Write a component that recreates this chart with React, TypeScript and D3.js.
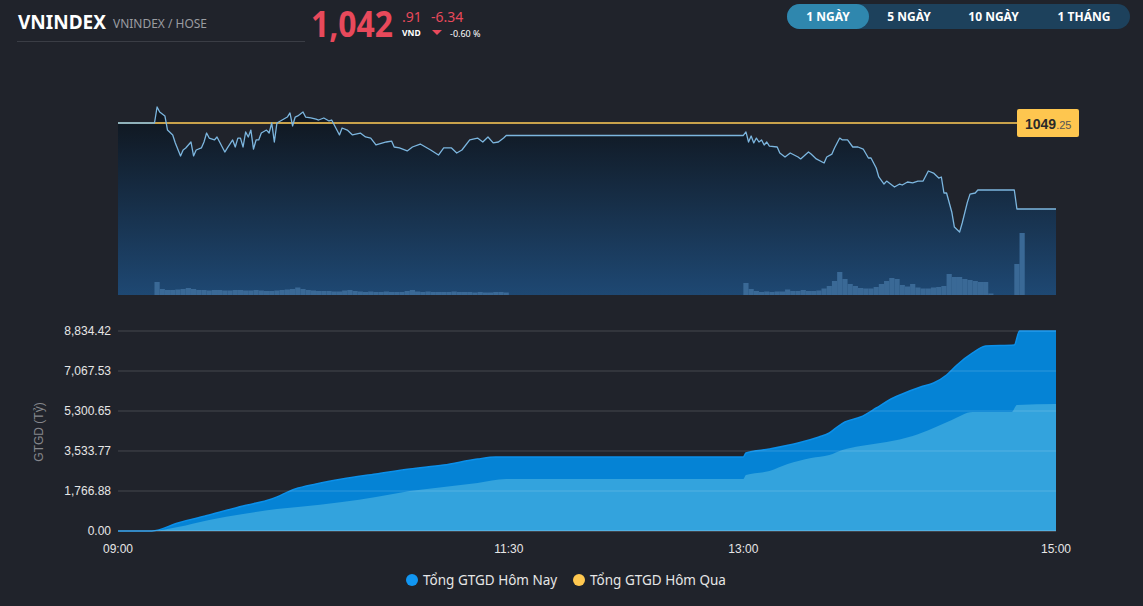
import React from "react";
import * as d3 from "d3";

// ---------- DATA ----------
const refPrice = 1049.25;
const lastPrice = "1,042";
const lastDecimals = ".91";
const change = "-6.34";
const changePct = "-0.60 %";
const rangeButtons = ["1 NGÀY", "5 NGÀY", "10 NGÀY", "1 THÁNG"];

const priceSeries: [string, number][] = [
  ["09:00", 1049.25], ["09:14", 1049.25], ["09:15", 1050.43], ["09:16", 1050.06], ["09:18", 1049.77],
  ["09:19", 1048.73], ["09:21", 1048.37], ["09:22", 1047.78], ["09:24", 1046.82], ["09:25", 1047.26],
  ["09:26", 1047.41], ["09:28", 1047.85], ["09:29", 1046.82], ["09:30", 1047.26], ["09:32", 1047.41],
  ["09:33", 1047.85], ["09:34", 1048.51], ["09:35", 1048.14], ["09:37", 1048.0], ["09:38", 1048.22],
  ["09:39", 1047.85], ["09:41", 1047.11], ["09:42", 1047.41], ["09:44", 1048.0], ["09:45", 1047.48],
  ["09:46", 1048.14], ["09:47", 1048.14], ["09:48", 1047.48], ["09:49", 1048.59], ["09:50", 1048.22],
  ["09:51", 1048.73], ["09:52", 1047.33], ["09:53", 1048.0], ["09:54", 1048.0], ["09:55", 1048.51],
  ["09:57", 1048.73], ["09:58", 1048.51], ["09:59", 1049.25], ["10:00", 1047.85], ["10:01", 1049.25],
  ["10:03", 1049.47], ["10:05", 1049.69], ["10:06", 1049.99], ["10:07", 1049.03], ["10:08", 1049.69],
  ["10:09", 1049.77], ["10:11", 1050.06], ["10:12", 1049.69], ["10:14", 1049.62], ["10:16", 1049.54],
  ["10:17", 1049.47], ["10:19", 1049.62], ["10:21", 1049.4], ["10:22", 1049.47], ["10:25", 1048.37],
  ["10:26", 1048.88], ["10:28", 1048.73], ["10:30", 1048.37], ["10:33", 1048.51], ["10:35", 1048.22],
  ["10:37", 1048.14], ["10:39", 1047.63], ["10:40", 1047.7], ["10:43", 1047.85], ["10:45", 1047.92],
  ["10:46", 1047.48], ["10:48", 1047.41], ["10:51", 1047.19], ["10:53", 1047.48], ["10:56", 1047.7],
  ["10:58", 1047.48], ["11:00", 1047.26], ["11:03", 1046.89], ["11:05", 1047.41], ["11:08", 1047.41],
  ["11:10", 1047.04], ["11:12", 1047.26], ["11:15", 1048.0], ["11:18", 1048.14], ["11:20", 1047.85],
  ["11:22", 1048.22], ["11:24", 1047.78], ["11:26", 1047.85], ["11:28", 1048.14], ["11:29", 1048.33],
  ["13:00", 1048.33], ["13:01", 1048.59], ["13:02", 1047.85], ["13:03", 1048.29], ["13:04", 1047.78],
  ["13:05", 1048.14], ["13:06", 1047.85], ["13:07", 1048.0], ["13:08", 1047.63], ["13:09", 1047.85],
  ["13:10", 1047.55], ["13:13", 1047.48], ["13:14", 1047.04], ["13:16", 1046.74], ["13:18", 1047.04],
  ["13:21", 1046.74], ["13:22", 1046.6], ["13:25", 1047.11], ["13:26", 1046.96], ["13:28", 1046.6],
  ["13:31", 1046.3], ["13:32", 1046.74], ["13:34", 1046.96], ["13:35", 1047.41], ["13:37", 1048.14],
  ["13:38", 1048.0], ["13:40", 1048.0], ["13:42", 1047.48], ["13:44", 1047.48], ["13:46", 1047.33],
  ["13:48", 1046.67], ["13:49", 1046.67], ["13:51", 1045.93], ["13:52", 1045.27], ["13:54", 1044.75],
  ["13:55", 1044.97], ["13:57", 1044.68], ["13:58", 1044.53], ["14:00", 1044.75], ["14:01", 1044.68],
  ["14:03", 1044.9], ["14:05", 1044.83], ["14:07", 1044.97], ["14:09", 1044.97], ["14:11", 1045.71],
  ["14:13", 1045.56], ["14:15", 1045.19], ["14:16", 1045.27], ["14:17", 1044.09], ["14:18", 1044.09],
  ["14:20", 1042.69], ["14:21", 1041.58], ["14:23", 1041.21], ["14:24", 1041.88], ["14:26", 1043.42],
  ["14:27", 1044.01], ["14:29", 1044.09], ["14:30", 1044.31], ["14:44", 1044.31], ["14:45", 1042.91],
  ["15:00", 1042.91],
];

// matched volume per 2-minute bin
const volumeSeries: [string, number][] = [
  ["09:14", 13], ["09:16", 6], ["09:18", 5], ["09:20", 5], ["09:22", 5.5], ["09:24", 6], ["09:26", 7],
  ["09:28", 6], ["09:30", 5], ["09:32", 5], ["09:34", 4.5], ["09:36", 5], ["09:38", 5], ["09:40", 4.5],
  ["09:42", 4.5], ["09:44", 5], ["09:46", 5], ["09:48", 4.5], ["09:50", 4.5], ["09:52", 5], ["09:54", 4.5],
  ["09:56", 4], ["09:58", 4], ["10:00", 4.5], ["10:02", 5], ["10:04", 5.5], ["10:06", 6], ["10:08", 7.5],
  ["10:10", 6], ["10:12", 5], ["10:14", 4.5], ["10:16", 4], ["10:18", 4], ["10:20", 4], ["10:22", 3.5],
  ["10:24", 3.5], ["10:26", 4.5], ["10:28", 5], ["10:30", 4], ["10:32", 3.5], ["10:34", 3], ["10:36", 3.5],
  ["10:38", 3], ["10:40", 3], ["10:42", 3.5], ["10:44", 3], ["10:46", 3], ["10:48", 3], ["10:50", 4],
  ["10:52", 5], ["10:54", 3.5], ["10:56", 3], ["10:58", 3.5], ["11:00", 3], ["11:02", 3], ["11:04", 3],
  ["11:06", 3], ["11:08", 3.5], ["11:10", 3], ["11:12", 3], ["11:14", 3], ["11:16", 2.5], ["11:18", 3],
  ["11:20", 2.5], ["11:22", 2.5], ["11:24", 3], ["11:26", 3], ["11:28", 2.5],
  ["13:00", 12], ["13:02", 6], ["13:04", 4], ["13:06", 3], ["13:08", 3.5], ["13:10", 3], ["13:12", 3.5],
  ["13:14", 3.5], ["13:16", 5.5], ["13:18", 4], ["13:20", 4], ["13:22", 5], ["13:24", 4], ["13:26", 4],
  ["13:28", 4.5], ["13:30", 6.5], ["13:32", 9], ["13:34", 14], ["13:36", 23], ["13:38", 16], ["13:40", 11],
  ["13:42", 9], ["13:44", 7], ["13:46", 6.5], ["13:48", 6.5], ["13:50", 8], ["13:52", 11], ["13:54", 14],
  ["13:56", 17], ["13:58", 16], ["14:00", 10], ["14:02", 8.5], ["14:04", 11], ["14:06", 7.5], ["14:08", 6.5],
  ["14:10", 6.5], ["14:12", 7.5], ["14:14", 8], ["14:16", 9], ["14:18", 21], ["14:20", 18], ["14:22", 18],
  ["14:24", 16], ["14:26", 15], ["14:28", 14], ["14:30", 13], ["14:32", 13], ["14:34", 1.5],
  ["14:44", 31], ["14:46", 62],
];

// cumulative traded value (tỷ đồng)
const valueTodayTotal: [string, number][] = [
  ["09:00", 0], ["09:13", 0], ["09:23", 353], ["09:35", 707], ["09:48", 1104], ["09:59", 1414],
  ["10:08", 1855], ["10:16", 2076], ["10:26", 2297], ["10:39", 2518], ["10:52", 2739], ["11:05", 2915],
  ["11:18", 3180], ["11:25", 3269], ["13:00", 3269], ["13:01", 3445], ["13:10", 3622], ["13:21", 3887],
  ["13:29", 4152], ["13:33", 4329], ["13:36", 4594], ["13:39", 4815], ["13:45", 5036], ["13:51", 5433],
  ["13:56", 5787], ["14:01", 6052], ["14:08", 6361], ["14:13", 6537], ["14:18", 6891], ["14:22", 7333],
  ["14:28", 7863], ["14:33", 8172], ["14:44", 8216], ["14:46", 8834.42], ["15:00", 8834.42],
];
const valueTodayMatched: [string, number][] = [
  ["09:00", 0], ["09:13", 0], ["09:23", 177], ["09:35", 486], ["09:48", 751], ["10:01", 972],
  ["10:09", 1060], ["10:26", 1281], ["10:39", 1502], ["10:52", 1767], ["11:05", 1944], ["11:18", 2120],
  ["11:29", 2297], ["13:00", 2297], ["13:01", 2474], ["13:10", 2650], ["13:17", 2960], ["13:26", 3225],
  ["13:33", 3357], ["13:38", 3578], ["13:45", 3755], ["13:55", 3931], ["14:05", 4196], ["14:13", 4550],
  ["14:20", 4903], ["14:28", 5256], ["14:43", 5256], ["14:45", 5566], ["15:00", 5610],
];

const yTickValues = [0, 1766.88, 3533.77, 5300.65, 7067.53, 8834.42];
const yTickLabels = ["0.00", "1,766.88", "3,533.77", "5,300.65", "7,067.53", "8,834.42"];
const xTickLabels = ["09:00", "11:30", "13:00", "15:00"];
const legendItems = [
  { label: "Tổng GTGD Hôm Nay", color: "#1196f2" },
  { label: "Tổng GTGD Hôm Qua", color: "#ffc850" },
];

// ---------- HELPERS ----------
const parseT = d3.timeParse("%H:%M");
const t = (s: string) => parseT(s) as Date;

const BG = "#20232b";
const SANS = "'Noto Sans', 'Open Sans', sans-serif";
const ARIAL = "'Liberation Sans', Arial, sans-serif";

export default function App() {
  const W = 1143, H = 606;
  const x = d3.scaleTime().domain([t("09:00"), t("15:00")]).range([118, 1056]);

  // top panel
  const topBottom = 295;
  const yPrice = d3.scaleLinear().domain([1036.57, refPrice]).range([topBottom, 123]);
  const yVol = d3.scaleLinear().domain([0, 100]).range([topBottom, 195]);
  const priceLine = d3.line<[string, number]>().x((d) => x(t(d[0]))).y((d) => yPrice(d[1]));
  const priceArea = d3
    .area<[string, number]>()
    .x((d) => x(t(d[0])))
    .y0(topBottom)
    .y1((d) => yPrice(d[1]));

  // bottom panel
  const yVal = d3.scaleLinear().domain([0, 8834.42]).range([531, 331]);
  const valArea = d3
    .area<[string, number]>()
    .x((d) => x(t(d[0])))
    .y0(531)
    .y1((d) => yVal(d[1]))
    .curve(d3.curveMonotoneX);
  const valLine = d3
    .line<[string, number]>()
    .x((d) => x(t(d[0])))
    .y((d) => yVal(d[1]))
    .curve(d3.curveMonotoneX);

  const btnX = [787, 869, 949, 1038, 1130];

  return (
    <div style={{ position: "absolute", left: 0, top: 0, width: W, height: H, background: BG }}>
      <svg width={W} height={H} style={{ display: "block" }}>
        <defs>
          <linearGradient id="pg" x1="0" y1="107" x2="0" y2="295" gradientUnits="userSpaceOnUse">
            <stop offset="0" stopColor="#0f141b" />
            <stop offset="1" stopColor="#1e4873" />
          </linearGradient>
        </defs>
        <rect width={W} height={H} fill={BG} />

        {/* Header */}
        <text x={18} y={29} fill="#ffffff" fontFamily={SANS} fontWeight={700} fontSize={19} textLength={88} lengthAdjust="spacingAndGlyphs">
          VNINDEX
        </text>
        <text x={113} y={28} fill="#9a9ca1" fontFamily={SANS} fontSize={13} textLength={94} lengthAdjust="spacingAndGlyphs">
          VNINDEX / HOSE
        </text>
        <line x1={17} x2={305} y1={41.5} y2={41.5} stroke="#3a3d45" strokeWidth={1} />
        <text x={311} y={37} fill="#e8495b" fontFamily={SANS} fontWeight={700} fontSize={35} textLength={82} lengthAdjust="spacingAndGlyphs">
          {lastPrice}
        </text>
        <text x={402} y={22} fill="#e8495b" fontFamily={SANS} fontSize={14}>{lastDecimals}</text>
        <text x={402} y={36} fill="#ffffff" fontFamily={SANS} fontWeight={700} fontSize={8.5}>VND</text>
        <text x={431} y={22} fill="#e8495b" fontFamily={SANS} fontSize={14}>{change}</text>
        <path d="M432,30 L442,30 L437,35 Z" fill="#e8495b" />
        <text x={450} y={37} fill="#ffffff" fontFamily={SANS} fontSize={9}>{changePct}</text>

        {/* Range buttons */}
        <rect x={787} y={4} width={343} height={25} rx={12.5} fill="#1d415c" />
        <rect x={787} y={4} width={82} height={25} rx={12.5} fill="#2f87ae" />
        {rangeButtons.map((b, i) => (
          <text key={b} x={(btnX[i] + btnX[i + 1]) / 2 + (i === 0 ? 0 : 0)} y={21} textAnchor="middle" fill="#ffffff" fontFamily={SANS} fontWeight={700} fontSize={12}>
            {b}
          </text>
        ))}

        {/* Top panel: price */}
        <path d={priceArea(priceSeries) || ""} fill="url(#pg)" />
        {volumeSeries.map(([tm, v]) => {
          const x0 = x(t(tm));
          const x1 = x(d3.timeMinute.offset(t(tm), 2));
          return <rect key={tm} x={x0} y={yVol(v)} width={x1 - x0} height={topBottom - yVol(v)} fill="#3a6996" />;
        })}
        <line x1={118} x2={1017} y1={yPrice(refPrice)} y2={yPrice(refPrice)} stroke="#c9a24b" strokeWidth={2} />
        <path d={priceLine(priceSeries) || ""} fill="none" stroke="#7cb6df" strokeWidth={1.3} strokeLinejoin="round" />
        <rect x={1017} y={109} width={62} height={28} rx={2} fill="#fec64f" />
        <text x={1025} y={129} fontFamily={ARIAL} fill="#2a2a2a">
          <tspan fontWeight={700} fontSize={14}>1049</tspan>
          <tspan fontSize={11} fill="#555">.25</tspan>
        </text>

        {/* Bottom panel: traded value */}
        <path d={valArea(valueTodayTotal) || ""} fill="#0583d5" />
        <path d={valLine(valueTodayTotal) || ""} fill="none" stroke="#0b90ea" strokeWidth={1.5} />
        <path d={valArea(valueTodayMatched) || ""} fill="#33a3dd" />
        {yTickValues.map((v, i) => (
          <g key={v}>
            <line x1={118} x2={1056} y1={yVal(v)} y2={yVal(v)} stroke="#ffffff" strokeOpacity={i === 0 ? 0.3 : 0.17} strokeWidth={1} />
            <text x={111} y={yVal(v) + 4} textAnchor="end" fill="#e6e6e6" fontFamily={ARIAL} fontSize={12}>
              {yTickLabels[i]}
            </text>
          </g>
        ))}
        <text transform="translate(43,432) rotate(-90)" textAnchor="middle" fill="#85878c" fontFamily={ARIAL} fontSize={12}>
          GTGD (Tỷ)
        </text>
        {xTickLabels.map((l) => (
          <text key={l} x={x(t(l))} y={553} textAnchor="middle" fill="#e6e6e6" fontFamily={ARIAL} fontSize={12}>
            {l}
          </text>
        ))}

        {/* Legend */}
        {legendItems.map((it, i) => {
          const lx = i === 0 ? 412 : 579;
          return (
            <g key={it.label}>
              <circle cx={lx} cy={580} r={6} fill={it.color} />
              <text x={lx + 11} y={585} fill="#e6e6e6" fontFamily={SANS} fontSize={13.5}>
                {it.label}
              </text>
            </g>
          );
        })}
      </svg>
    </div>
  );
}
